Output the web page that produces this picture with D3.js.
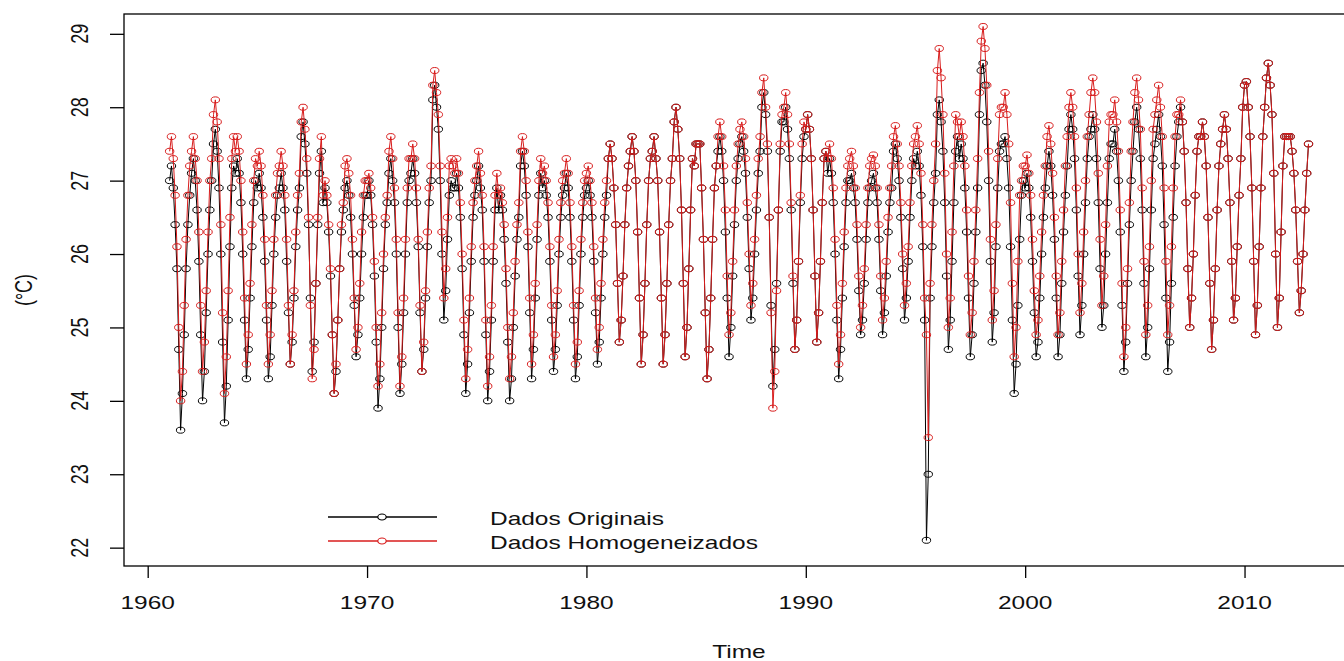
<!DOCTYPE html>
<html>
<head>
<meta charset="utf-8">
<script src="https://cdn.jsdelivr.net/npm/d3@7"></script>
<style>
  html, body { margin: 0; padding: 0; background: #fff; }
  svg { display: block; }
  text { font-family: "Liberation Sans", Arial, sans-serif; font-size: 18px; fill: #111; }
</style>
</head>
<body>
<svg id="chart" width="1344" height="661"></svg>
<script>
// ---- data (monthly, Jan 1961 .. Dec 2012) ----
const startYear = 1961;
const frequency = 12;

const dadosOriginais = [
  27.0,27.2,26.9,26.4,25.8,24.7,23.6,24.1,24.9,25.8,26.4,26.8, // 1961
  27.1,27.3,27.0,26.6,25.9,24.9,24.0,24.4,25.2,26.0,26.6,27.0, // 1962
  27.5,27.7,27.4,26.9,26.0,24.8,23.7,24.2,25.1,26.1,26.9,27.2, // 1963
  27.1,27.3,27.1,26.7,26.0,25.1,24.3,24.7,25.4,26.1,26.7,27.0, // 1964
  26.9,27.1,26.9,26.5,25.9,25.1,24.3,24.6,25.3,26.0,26.5,26.8, // 1965
  26.9,27.1,26.9,26.6,25.9,25.2,24.5,24.8,25.4,26.1,26.6,26.9, // 1966
  27.6,27.8,27.5,27.1,26.4,25.4,24.4,24.8,25.6,26.4,27.1,27.4, // 1967
  26.7,26.9,26.7,26.3,25.7,24.9,24.1,24.4,25.1,25.8,26.3,26.6, // 1968
  26.9,27.0,26.8,26.5,26.0,25.3,24.6,24.9,25.4,26.0,26.5,26.8, // 1969
  26.8,27.0,26.8,26.4,25.7,24.8,23.9,24.3,25.0,25.8,26.4,26.7, // 1970
  27.1,27.3,27.0,26.7,26.0,25.0,24.1,24.5,25.2,26.0,26.7,27.0, // 1971
  27.1,27.3,27.1,26.7,26.1,25.2,24.4,24.7,25.4,26.1,26.7,27.0, // 1972
  28.1,28.3,28.0,27.7,27.0,26.0,25.1,25.5,26.2,26.8,27.0,26.9, // 1973
  26.9,27.1,26.9,26.5,25.8,24.9,24.1,24.5,25.2,25.9,26.5,26.8, // 1974
  27.0,27.2,26.9,26.6,25.9,24.9,24.0,24.4,25.1,25.9,26.6,26.9, // 1975
  26.6,26.8,26.6,26.2,25.6,24.8,24.0,24.3,25.0,25.7,26.2,26.5, // 1976
  27.2,27.4,27.2,26.8,26.1,25.2,24.3,24.7,25.4,26.2,26.8,27.1, // 1977
  26.9,27.0,26.8,26.5,25.9,25.1,24.4,24.7,25.3,26.0,26.5,26.8, // 1978
  26.9,27.1,26.9,26.5,25.9,25.1,24.3,24.6,25.3,26.0,26.5,26.8, // 1979
  26.9,27.0,26.8,26.5,25.9,25.2,24.5,24.8,25.4,26.0,26.5,26.8, // 1980
  27.3,27.5,27.3,26.9,26.4,25.6,24.8,25.1,25.7,26.4,26.9,27.2, // 1981
  27.4,27.6,27.4,27.0,26.3,25.4,24.5,24.9,25.6,26.4,27.0,27.3, // 1982
  27.4,27.6,27.3,27.0,26.3,25.4,24.5,24.9,25.6,26.4,27.0,27.3, // 1983
  27.8,28.0,27.7,27.3,26.6,25.6,24.6,25.0,25.8,26.6,27.3,27.2, // 1984
  27.5,27.5,27.5,26.9,26.2,25.2,24.3,24.7,25.4,26.2,26.9,27.2, // 1985
  27.4,27.6,27.4,27.0,26.3,25.4,24.6,25.0,25.7,26.4,27.0,27.3, // 1986
  27.5,27.6,27.4,27.1,26.5,25.8,25.1,25.4,26.0,26.6,27.1,27.4, // 1987
  28.0,28.2,27.9,27.4,26.5,25.3,24.2,24.7,25.6,26.6,27.4,27.8, // 1988
  27.8,28.0,27.7,27.3,26.6,25.6,24.7,25.1,25.9,26.7,27.3,27.6, // 1989
  27.7,27.9,27.7,27.3,26.6,25.7,24.8,25.2,25.9,26.7,27.3,27.4, // 1990
  27.1,27.3,27.1,26.7,26.0,25.1,24.3,24.7,25.4,26.1,26.7,27.0, // 1991
  27.0,27.1,26.9,26.7,26.2,25.5,24.9,25.1,25.6,26.2,26.7,26.9, // 1992
  27.0,27.1,26.9,26.7,26.2,25.5,24.9,25.2,25.7,26.3,26.7,26.9, // 1993
  27.4,27.5,27.3,27.0,26.5,25.8,25.1,25.4,25.9,26.5,27.0,27.3, // 1994
  27.2,27.4,27.2,26.8,26.1,25.1,22.1,23.0,25.4,26.1,26.7,27.1, // 1995
  27.9,28.1,27.8,27.4,26.7,25.7,24.7,25.1,25.9,26.7,27.4,27.6, // 1996
  27.3,27.5,27.3,26.9,26.3,25.4,24.6,24.9,25.6,26.3,26.9,27.9, // 1997
  28.5,28.6,28.3,27.8,27.0,25.9,24.8,25.2,26.1,26.9,27.4,27.5, // 1998
  27.5,27.6,27.3,26.9,26.1,25.1,24.1,24.5,25.3,26.2,26.8,27.0, // 1999
  26.9,27.1,26.9,26.5,25.9,25.2,24.6,24.8,25.4,26.0,26.5,26.9, // 2000
  27.2,27.4,27.2,26.8,26.2,25.4,24.6,24.9,25.6,26.3,26.8,27.2, // 2001
  27.7,27.9,27.7,27.3,26.6,25.7,24.9,25.3,26.0,26.7,27.3,27.6, // 2002
  27.7,27.9,27.7,27.3,26.7,25.8,25.0,25.3,26.0,26.7,27.3,27.5, // 2003
  27.5,27.7,27.4,27.0,26.3,25.3,24.4,24.8,25.6,26.4,27.0,27.4, // 2004
  27.8,28.0,27.7,27.3,26.6,25.6,24.6,25.0,25.8,26.6,27.3,27.5, // 2005
  27.7,27.9,27.6,27.2,26.4,25.4,24.4,24.8,25.6,26.5,27.2,27.6, // 2006
  27.8,28.0,27.8,27.4,26.7,25.8,25.0,25.4,26.0,26.8,27.4,27.6, // 2007
  27.6,27.8,27.6,27.2,26.5,25.6,24.7,25.1,25.8,26.6,27.2,27.5, // 2008
  27.7,27.9,27.7,27.3,26.7,25.9,25.1,25.4,26.1,26.8,27.3,28.0, // 2009
  28.3,28.35,28.0,27.6,26.9,25.9,24.9,25.3,26.1,26.9,27.6,28.0, // 2010
  28.4,28.6,28.3,27.9,27.1,26.0,25.0,25.4,26.3,27.2,27.6,27.6, // 2011
  27.6,27.6,27.4,27.1,26.6,25.9,25.2,25.5,26.0,26.6,27.1,27.5  // 2012
];

const dadosHomogeneizados = [
  27.4,27.6,27.3,26.8,26.1,25.0,24.0,24.4,25.3,26.2,26.8,27.2, // 1961
  27.4,27.6,27.3,27.0,26.3,25.3,24.4,24.8,25.5,26.3,27.0,27.3, // 1962
  27.9,28.1,27.8,27.3,26.4,25.2,24.1,24.6,25.5,26.5,27.3,27.6, // 1963
  27.4,27.6,27.4,27.0,26.3,25.4,24.5,24.9,25.6,26.4,27.0,27.3, // 1964
  27.2,27.4,27.2,26.8,26.2,25.3,24.5,24.9,25.5,26.2,26.8,27.1, // 1965
  27.2,27.4,27.2,26.8,26.2,25.3,24.5,24.9,25.5,26.3,26.8,27.1, // 1966
  27.8,28.0,27.7,27.3,26.5,25.3,24.3,24.7,25.6,26.5,27.3,27.6, // 1967
  26.8,27.0,26.8,26.4,25.8,24.9,24.1,24.5,25.1,25.8,26.4,26.7, // 1968
  27.2,27.3,27.1,26.8,26.2,25.4,24.7,25.0,25.6,26.3,26.8,27.0, // 1969
  27.0,27.1,26.9,26.5,25.9,25.0,24.2,24.5,25.2,26.0,26.5,26.8, // 1970
  27.4,27.6,27.3,26.9,26.2,25.2,24.2,24.6,25.4,26.2,26.9,27.3, // 1971
  27.3,27.5,27.3,26.9,26.2,25.3,24.4,24.8,25.5,26.3,26.9,27.2, // 1972
  28.3,28.5,28.2,27.9,27.2,26.3,25.4,25.8,26.5,27.2,27.3,27.2, // 1973
  27.1,27.3,27.1,26.7,26.0,25.1,24.3,24.7,25.4,26.1,26.7,27.0, // 1974
  27.2,27.4,27.1,26.8,26.1,25.1,24.2,24.6,25.3,26.1,26.8,27.1, // 1975
  26.8,26.9,26.7,26.4,25.8,25.0,24.3,24.6,25.2,25.9,26.4,26.7, // 1976
  27.4,27.6,27.4,27.0,26.3,25.4,24.5,24.9,25.6,26.4,27.0,27.3, // 1977
  27.1,27.2,27.0,26.7,26.1,25.3,24.6,24.9,25.5,26.2,26.7,27.0, // 1978
  27.1,27.3,27.1,26.7,26.1,25.3,24.5,24.8,25.5,26.2,26.7,27.0, // 1979
  27.1,27.2,27.0,26.7,26.1,25.4,24.7,25.0,25.6,26.2,26.7,27.0, // 1980
  27.3,27.5,27.3,26.9,26.4,25.6,24.8,25.1,25.7,26.4,26.9,27.2, // 1981
  27.4,27.6,27.4,27.0,26.3,25.4,24.5,24.9,25.6,26.4,27.0,27.3, // 1982
  27.4,27.6,27.3,27.0,26.3,25.4,24.5,24.9,25.6,26.4,27.0,27.3, // 1983
  27.8,28.0,27.7,27.3,26.6,25.6,24.6,25.0,25.8,26.6,27.3,27.2, // 1984
  27.5,27.5,27.5,26.9,26.2,25.2,24.3,24.7,25.4,26.2,26.9,27.2, // 1985
  27.6,27.8,27.6,27.2,26.6,25.7,24.9,25.2,25.9,26.6,27.2,27.5, // 1986
  27.7,27.8,27.6,27.3,26.7,26.0,25.3,25.6,26.2,26.8,27.3,27.6, // 1987
  28.2,28.4,28.0,27.5,26.5,25.2,23.9,24.4,25.5,26.6,27.5,27.9, // 1988
  28.0,28.2,27.9,27.5,26.7,25.7,24.7,25.1,25.9,26.8,27.5,27.8, // 1989
  27.7,27.9,27.7,27.3,26.6,25.7,24.8,25.2,25.9,26.7,27.3,27.4, // 1990
  27.3,27.5,27.3,26.9,26.2,25.3,24.5,24.9,25.6,26.3,26.9,27.2, // 1991
  27.3,27.4,27.2,26.9,26.4,25.7,25.0,25.3,25.8,26.4,26.9,27.2, // 1992
  27.3,27.35,27.2,26.9,26.4,25.7,25.1,25.4,25.9,26.5,26.9,27.2, // 1993
  27.6,27.75,27.5,27.2,26.7,26.0,25.3,25.6,26.1,26.7,27.2,27.5, // 1994
  27.6,27.75,27.5,27.1,26.4,25.4,24.9,23.5,25.6,26.4,27.0,27.5, // 1995
  28.5,28.8,28.4,27.9,27.1,26.0,25.0,25.4,26.3,27.2,27.9,27.8, // 1996
  27.6,27.8,27.6,27.2,26.6,25.7,24.9,25.2,25.9,26.6,27.3,28.2, // 1997
  28.9,29.1,28.8,28.3,27.4,26.2,25.1,25.5,26.4,27.3,27.9,28.0, // 1998
  28.0,28.2,27.9,27.5,26.7,25.6,24.6,25.0,25.9,26.8,27.0,27.2, // 1999
  27.2,27.35,27.1,26.8,26.2,25.5,24.9,25.1,25.7,26.3,26.8,27.2, // 2000
  27.6,27.75,27.5,27.1,26.5,25.7,24.9,25.2,25.9,26.6,27.2,27.6, // 2001
  28.0,28.2,28.0,27.6,26.9,26.0,25.2,25.6,26.3,27.0,27.6,27.9, // 2002
  28.2,28.4,28.2,27.8,27.1,26.2,25.3,25.7,26.4,27.2,27.8,27.9, // 2003
  27.9,28.1,27.8,27.4,26.6,25.6,24.6,25.0,25.8,26.7,27.4,27.8, // 2004
  28.2,28.4,28.1,27.7,26.9,25.9,24.9,25.3,26.1,27.0,27.7,27.9, // 2005
  28.1,28.3,28.0,27.6,26.9,25.9,24.9,25.3,26.1,26.9,27.6,27.9, // 2006
  27.9,28.1,27.8,27.4,26.7,25.8,25.0,25.4,26.0,26.8,27.4,27.6, // 2007
  27.6,27.8,27.6,27.2,26.5,25.6,24.7,25.1,25.8,26.6,27.2,27.5, // 2008
  27.7,27.9,27.7,27.3,26.7,25.9,25.1,25.4,26.1,26.8,27.3,28.0, // 2009
  28.3,28.35,28.0,27.6,26.9,25.9,24.9,25.3,26.1,26.9,27.6,28.0, // 2010
  28.4,28.6,28.3,27.9,27.1,26.0,25.0,25.4,26.3,27.2,27.6,27.6, // 2011
  27.6,27.6,27.4,27.1,26.6,25.9,25.2,25.5,26.0,26.6,27.1,27.5  // 2012
];

const xTickValues = [1960, 1970, 1980, 1990, 2000, 2010];
const yTickValues = [22, 23, 24, 25, 26, 27, 28, 29];
const seriesNames = ["Dados Originais", "Dados Homogeneizados"];
const xTitle = "Time";
const yTitle = "(°C)";

// ---- layout ----
const svg = d3.select("#chart");
const W = 1344, H = 661;
const plot = { left: 124, top: 14, right: 1354, bottom: 566 };
const SX = 1.36; // horizontal stretch of the original raster text
const colors = ["#000000", "#d81c1c"];

const x = d3.scaleLinear().domain([1958.92, 2014.99]).range([plot.left, plot.right]);
const y = d3.scaleLinear().domain([21.75, 29.27]).range([plot.bottom, plot.top]);

svg.append("rect").attr("width", W).attr("height", H).attr("fill", "#fff");

const clip = svg.append("defs").append("clipPath").attr("id", "clip")
  .append("rect").attr("x", plot.left).attr("y", plot.top)
  .attr("width", plot.right - plot.left).attr("height", plot.bottom - plot.top);

function toPoints(arr) {
  return arr.map((v, i) => ({ t: startYear + i / frequency, v }));
}
const series = [toPoints(dadosOriginais), toPoints(dadosHomogeneizados)];

const line = d3.line().x(d => x(d.t)).y(d => y(d.v));
const g = svg.append("g").attr("clip-path", "url(#clip)");

series.forEach((pts, k) => {
  const sg = g.append("g");
  sg.append("path").datum(pts)
    .attr("d", line).attr("fill", "none")
    .attr("stroke", colors[k]).attr("stroke-width", 1);
  sg.selectAll("ellipse").data(pts).join("ellipse")
    .attr("cx", d => x(d.t)).attr("cy", d => y(d.v))
    .attr("rx", 4.2).attr("ry", 3)
    .attr("fill", "none").attr("stroke", colors[k]).attr("stroke-width", 1);
});

// frame
svg.append("rect")
  .attr("x", plot.left).attr("y", plot.top)
  .attr("width", plot.right - plot.left).attr("height", plot.bottom - plot.top)
  .attr("fill", "none").attr("stroke", "#000").attr("stroke-width", 1.3);

// x axis
const xAxis = d3.axisBottom(x).tickValues(xTickValues).tickFormat(d3.format("d"))
  .tickSize(12).tickPadding(0);
const xg = svg.append("g").attr("transform", `translate(0,${plot.bottom})`).call(xAxis);
xg.select(".domain").remove();
xg.selectAll(".tick line").attr("stroke", "#000").attr("stroke-width", 1.3);
xg.selectAll(".tick text").remove();
xTickValues.forEach(v => {
  svg.append("text")
    .attr("transform", `translate(${x(v)},609) scale(${SX},1)`)
    .attr("text-anchor", "middle").text(v);
});

// y axis
const yAxis = d3.axisLeft(y).tickValues(yTickValues).tickSize(14).tickPadding(0);
const yg = svg.append("g").attr("transform", `translate(${plot.left},0)`).call(yAxis);
yg.select(".domain").remove();
yg.selectAll(".tick line").attr("stroke", "#000").attr("stroke-width", 1.3);
yg.selectAll(".tick text").remove();
yTickValues.forEach(v => {
  svg.append("text")
    .attr("transform", `translate(80,${y(v)}) scale(${SX},1) rotate(-90)`)
    .attr("text-anchor", "middle").attr("dominant-baseline", "central").text(v);
});

// axis titles
svg.append("text")
  .attr("transform", `translate(${(plot.left + plot.right) / 2},658) scale(${SX},1)`)
  .attr("text-anchor", "middle").text(xTitle);
svg.append("text")
  .attr("transform", `translate(24,${(plot.top + plot.bottom) / 2}) scale(${SX},1) rotate(-90)`)
  .attr("text-anchor", "middle").attr("dominant-baseline", "central").text(yTitle);

// legend
const legY = [517, 541];
seriesNames.forEach((name, k) => {
  svg.append("line").attr("x1", 328).attr("x2", 437).attr("y1", legY[k]).attr("y2", legY[k])
    .attr("stroke", colors[k]).attr("stroke-width", 1.3);
  svg.append("ellipse").attr("cx", 382).attr("cy", legY[k]).attr("rx", 4.2).attr("ry", 3)
    .attr("fill", "#fff").attr("stroke", colors[k]).attr("stroke-width", 1.2);
  svg.append("text")
    .attr("transform", `translate(490,${legY[k] + 2}) scale(${SX},1)`)
    .attr("dominant-baseline", "central").text(name);
});
</script>
</body>
</html>
